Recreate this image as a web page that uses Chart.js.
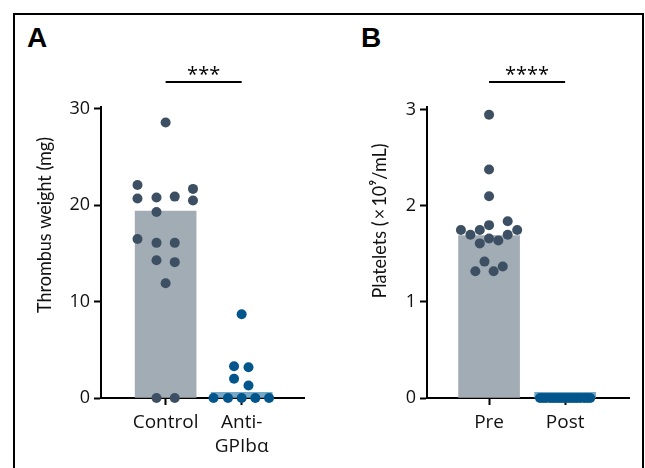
<!DOCTYPE html>
<html>
<head>
<meta charset="utf-8">
<script src="https://cdn.jsdelivr.net/npm/chart.js@4"></script>
<style>
  body { margin: 0; background: #fff; }
  #wrap { position: relative; width: 645px; height: 468px; overflow: hidden; }
  #frame { position: absolute; left: 13px; top: 13px; width: 627px; height: 470px; border: 2px solid #000; }
  .letter { position: absolute; font: bold 28px "Liberation Sans", Arial, sans-serif; line-height: 28px; color: #000; }
  canvas { position: absolute; top: 0; }
</style>
</head>
<body>
<div id="wrap">
  <div id="frame"></div>
  <div class="letter" style="left:27px; top:24px;">A</div>
  <div class="letter" style="left:361px; top:24px;">B</div>
  <canvas id="chartA" width="322" height="468" style="left:0; width:322px; height:468px;"></canvas>
  <canvas id="chartB" width="323" height="468" style="left:322px; width:323px; height:468px;"></canvas>
</div>
<script>
// Panel A - thrombus weight
const groupsA = ['Control', ['Anti-', 'GPIbα']];
const barA = [19.4, 0.6];
const controlWeight = [28.6, 22.1, 21.7, 20.7, 20.8, 20.9, 20.5, 19.3, 16.5, 16.1, 16.1, 14.3, 14.1, 11.9, 0, 0];
const controlJitter = [0, -0.37, 0.36, -0.37, -0.12, 0.12, 0.36, -0.12, -0.37, -0.12, 0.12, -0.12, 0.12, 0, -0.12, 0.12];
const antiWeight = [8.7, 3.3, 3.2, 2.0, 1.3, 0, 0, 0, 0, 0];
const antiJitter = [0, -0.1, 0.09, -0.1, 0.09, -0.37, -0.18, 0, 0.18, 0.36];
const ticksA = [0, 10, 20, 30];

// Panel B - platelet counts
const groupsB = ['Pre', 'Post'];
const barB = [1.69, 0.06];
const prePlatelets = [2.95, 2.38, 2.10, 1.75, 1.70, 1.75, 1.80, 1.84, 1.75, 1.70, 1.61, 1.66, 1.64, 1.42, 1.37, 1.32, 1.32];
const preJitter = [0, 0, 0, -0.37, -0.245, -0.122, 0, 0.245, 0.37, 0.245, -0.122, 0, 0.122, -0.06, 0.18, -0.18, 0.06];
const postPlatelets = [0, 0, 0, 0, 0, 0, 0, 0, 0, 0, 0, 0, 0, 0, 0, 0, 0];
const postJitter = [-0.33, -0.29, -0.25, -0.2, -0.16, -0.12, -0.08, -0.04, 0, 0.04, 0.08, 0.12, 0.16, 0.2, 0.25, 0.29, 0.33];
const ticksB = [0, 1, 2, 3];

const DARK = '#3d5063';
const BLUE = '#03568c';
const GREY_BAR = '#a2acb4';
const BLUE_BAR = '#75a7c7';
const FONT = '"Open Sans", Lato, sans-serif';

function pts(vals, jitter, group) {
  return vals.map((v, i) => ({ x: group + jitter[i], y: v }));
}

// significance bar + stars, and the rotated y title (not centred on the axis in the original)
const extrasPlugin = {
  id: 'extras',
  afterDraw(chart, args, opts) {
    const ctx = chart.ctx;
    const x = chart.scales.x;
    const x0 = x.getPixelForValue(0), x1 = x.getPixelForValue(1);
    const y = opts.sigY;
    ctx.save();
    ctx.strokeStyle = '#000';
    ctx.lineWidth = 2;
    ctx.beginPath();
    ctx.moveTo(x0, y);
    ctx.lineTo(x1, y);
    ctx.stroke();
    ctx.fillStyle = '#000';
    ctx.font = '20px ' + FONT;
    ctx.textAlign = 'center';
    ctx.textBaseline = 'alphabetic';
    ctx.fillText(opts.stars, (x0 + x1) / 2, y - 1);

    // condensed look: squeeze along the text direction
    ctx.translate(opts.titleX, opts.titleY);
    ctx.rotate(-Math.PI / 2);
    ctx.scale(0.9, 1);
    ctx.fillStyle = '#111';
    ctx.font = '20px Lato, sans-serif';
    ctx.textBaseline = 'middle';
    ctx.fillText(opts.title, 0, 0);
    ctx.restore();
  }
};

function makePanel(id, groups, bars, p0, p1, yMax, yTicks, extras, xMin, xMax, pad, yWidth) {
  return new Chart(document.getElementById(id), {
    type: 'bar',
    data: {
      datasets: [
        { type: 'scatter', data: p0, backgroundColor: DARK, borderWidth: 0, pointRadius: 5, order: 1, clip: false },
        { type: 'scatter', data: p1, backgroundColor: BLUE, borderWidth: 0, pointRadius: 5, order: 1, clip: false },
        { type: 'bar', data: bars.map((v, i) => ({ x: i, y: v })), backgroundColor: [GREY_BAR, BLUE_BAR],
          barThickness: 61, order: 2 }
      ]
    },
    options: {
      responsive: false,
      animation: false,
      layout: { padding: pad },
      plugins: { legend: { display: false }, tooltip: { enabled: false }, extras: extras },
      scales: {
        x: {
          type: 'linear', min: xMin, max: xMax, offset: false,
          afterBuildTicks: s => { s.ticks = [{ value: 0 }, { value: 1 }]; },
          afterFit: s => { s.height = 70; },
          grid: { drawOnChartArea: false, drawTicks: true, tickLength: 7, tickColor: '#000', tickWidth: 2, offset: false },
          border: { color: '#000', width: 2 },
          ticks: { color: '#111', font: { family: FONT, size: 19, lineHeight: 1.25 }, padding: 6, maxRotation: 0, autoSkip: false,
                   callback: v => groups[v] }
        },
        y: {
          min: 0, max: yMax,
          afterBuildTicks: s => { s.ticks = yTicks.map(v => ({ value: v })); },
          afterFit: s => { s.width = yWidth; },
          grid: { drawOnChartArea: false, drawTicks: true, tickLength: 7, tickColor: '#000', tickWidth: 2 },
          border: { color: '#000', width: 2 },
          ticks: { color: '#111', font: { family: FONT, size: 18 }, padding: 4 }
        }
      }
    },
    plugins: [extrasPlugin]
  });
}

makePanel('chartA', groupsA, barA, pts(controlWeight, controlJitter, 0), pts(antiWeight, antiJitter, 1),
  30.2, ticksA, { stars: '***', sigY: 82, title: 'Thrombus weight (mg)', titleX: 45, titleY: 225 },
  -0.85, 1.82, { left: 20, top: 107, right: 18, bottom: 0 }, 81);

makePanel('chartB', groupsB, barB, pts(prePlatelets, preJitter, 0), pts(postPlatelets, postJitter, 1),
  3.03, ticksB, { stars: '****', sigY: 82, title: 'Platelets (\u2009×\u200910⁹/mL)', titleX: 58, titleY: 221 },
  -0.816, 1.84, { left: 44, top: 107, right: 16, bottom: 0 }, 61);
</script>
</body>
</html>
